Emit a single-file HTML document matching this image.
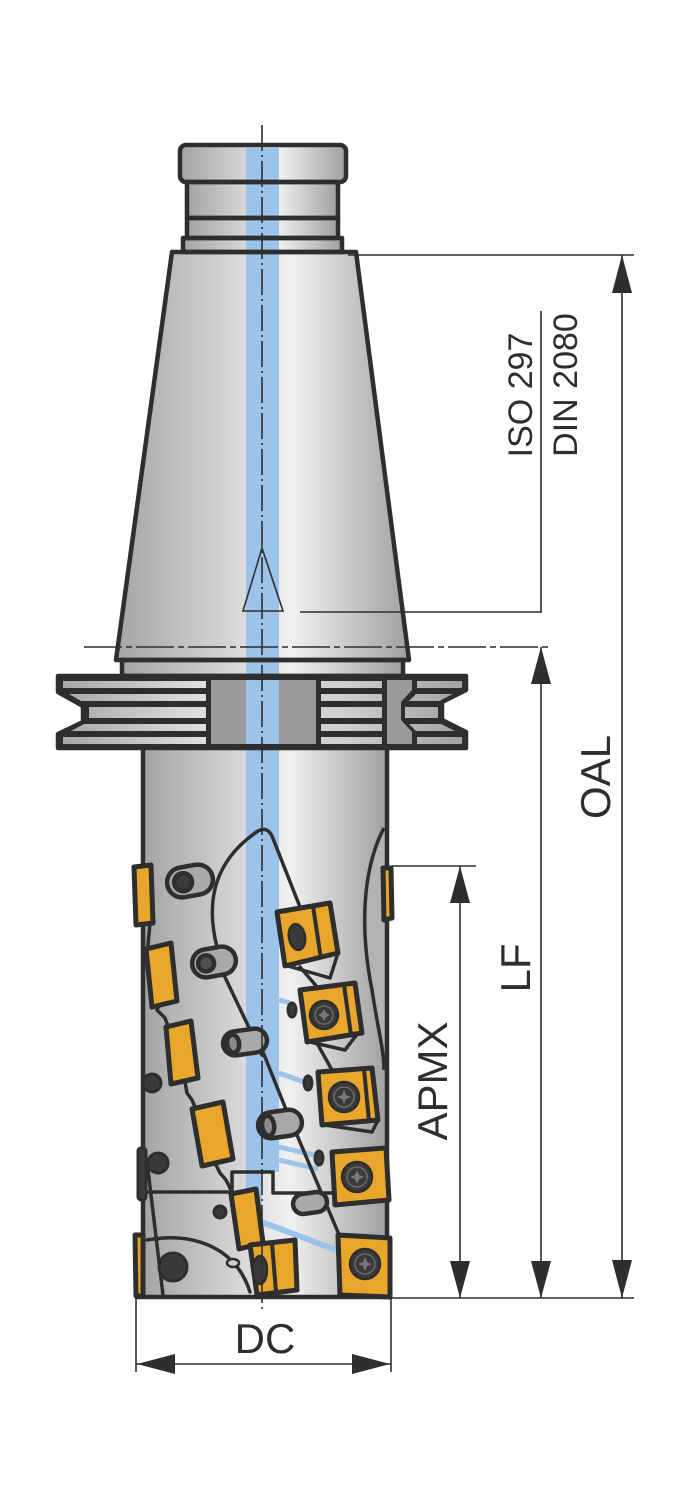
<!DOCTYPE html>
<html><head><meta charset="utf-8">
<style>html,body{margin:0;padding:0;background:#fff}svg{display:block}</style>
</head>
<body>
<svg width="692" height="1500" viewBox="0 0 692 1500" xmlns="http://www.w3.org/2000/svg">
<defs>
<linearGradient id="m" x1="0" x2="1" y1="0" y2="0">
<stop offset="0" stop-color="#a4a4a4"/><stop offset="0.5" stop-color="#e4e4e4"/><stop offset="0.6" stop-color="#f1f1f1"/><stop offset="1" stop-color="#a0a0a0"/>
</linearGradient>
<linearGradient id="fl" gradientUnits="userSpaceOnUse" x1="58" x2="466" y1="0" y2="0">
<stop offset="0" stop-color="#a6a6a6"/><stop offset="0.35" stop-color="#dedede"/><stop offset="0.7" stop-color="#cfcfcf"/><stop offset="1" stop-color="#a0a0a0"/>
</linearGradient>
</defs>

<!-- metal fills -->
<rect x="180" y="145" width="166" height="37" rx="6" fill="url(#m)"/>
<rect x="187" y="182" width="151" height="56" fill="url(#m)"/>
<rect x="183" y="238" width="159" height="14" fill="url(#m)"/>
<polygon points="172,252 356,252 409,660 116,660" fill="url(#m)"/>
<rect x="122" y="660" width="281" height="16" fill="url(#m)"/>
<rect x="143" y="748" width="244" height="549" fill="url(#m)"/>
<path d="M384 828 C 362 870, 360 930, 372 990 C 378 1030, 384 1050, 384 1070 L387 1070 L387 828 Z" fill="#b3b3b3"/>

<!-- flange -->
<path d="M58 676 H466 V690 L442 702 V720 L466 732 V748 H58 V734 L83 722 V706 L58 692 Z" fill="#2e2e2e"/>
<g fill="url(#fl)">
<rect x="63" y="681" width="143" height="7"/>
<polygon points="69,694 206,694 206,701 81,701"/>
<rect x="89" y="707" width="117" height="11"/>
<polygon points="84,724 206,724 206,731 71,731"/>
<rect x="63" y="737" width="143" height="7"/>
<rect x="321" y="681" width="61" height="7"/>
<rect x="321" y="694" width="61" height="7"/>
<rect x="321" y="707" width="61" height="11"/>
<rect x="321" y="724" width="61" height="7"/>
<rect x="321" y="737" width="61" height="7"/>
<rect x="417" y="681" width="45" height="7"/>
<polygon points="416,694 455,694 441,701 409,701"/>
<rect x="405" y="707" width="33" height="11"/>
<polygon points="409,724 441,724 455,731 416,731"/>
<rect x="417" y="737" width="45" height="7"/>
</g>
<rect x="211" y="680" width="105" height="64" fill="#9b9b9b"/>
<polygon points="387,680 412,680 412,690 401,702 401,720 412,732 412,744 387,744" fill="#9b9b9b"/>
<line x1="414" y1="680" x2="414" y2="690" stroke="#2e2e2e" stroke-width="3"/>
<line x1="414" y1="732" x2="414" y2="744" stroke="#2e2e2e" stroke-width="3"/>

<!-- blue coolant channel -->
<g fill="#9cc3e9">
<rect x="246" y="148" width="33" height="528"/>
<rect x="246" y="680" width="33" height="64"/>
<rect x="246" y="748" width="33" height="424"/>
<rect x="246" y="1172" width="16" height="72"/>
</g>
<g stroke="#9cc3e9" stroke-width="5" fill="none">
<line x1="279" y1="1000" x2="290" y2="1003"/>
<line x1="279" y1="1073" x2="307" y2="1083"/>
<line x1="279" y1="1147" x2="318" y2="1156"/>
<line x1="279" y1="1160" x2="318" y2="1169"/>
<line x1="262" y1="1222" x2="336" y2="1250" stroke-width="6"/>
</g>

<!-- outlines of holder -->
<g fill="none" stroke="#2e2e2e" stroke-width="4.5" stroke-linejoin="round">
<rect x="180" y="145" width="166" height="37" rx="6"/>
<rect x="187" y="182" width="151" height="36"/>
<rect x="187" y="218" width="151" height="20"/>
<rect x="183" y="238" width="159" height="14"/>
<polygon points="172,252 356,252 409,660 116,660"/>
<rect x="122" y="660" width="281" height="16"/>
<path d="M58 676 H466 V690 L442 702 V720 L466 732 V748 H58 V734 L83 722 V706 L58 692 Z"/>
<line x1="143" y1="748" x2="143" y2="1297"/>
<line x1="387" y1="748" x2="387" y2="1297"/>
<line x1="136" y1="1297" x2="392" y2="1297"/>
<path d="M384 828 C 362 870, 360 930, 372 990 C 378 1030, 384 1050, 384 1070" stroke-width="3.5"/>
</g>

<!-- cutter body lines -->
<g fill="none" stroke="#2e2e2e" stroke-width="3.5" stroke-linejoin="round" stroke-linecap="round">
<path d="M217 947 C 205 900, 215 860, 258 831 Q 267 826 272 836 L300 907"/>
<path d="M288 966 L330 978 L338 953"/>
<path d="M300 967 L318 988"/>
<path d="M310 1042 L345 1050 L358 1033"/>
<path d="M318 1045 L332 1070"/>
<path d="M325 1125 L372 1132 L378 1120"/>
<path d="M223 973 L262 1055"/>
<path d="M263 1052 L287 1112"/>
<path d="M297 1135 L340 1237"/>
<path d="M150 923 L148 945"/>
<path d="M160 1003 L157 1010 L165 1018 L168 1026"/>
<path d="M185 1082 L187 1093 L192 1100 L195 1107"/>
<path d="M215 1163 L220 1173 L226 1180 L232 1192"/>
<path d="M143 1192 H232 V1172 H273 V1193 H332"/>
<path d="M148 1170 L163 1295"/>
<path d="M147 1240 C 190 1232, 235 1245, 250 1292"/>
<path d="M262 1245 L258 1258"/>
</g>

<!-- slot holes -->
<g stroke="#2e2e2e" stroke-width="4.5">
<g transform="rotate(-10 190 881)"><rect x="167" y="866" width="46" height="30" rx="15" fill="#a9a9a9"/><circle cx="183" cy="881" r="9" fill="#3a3a3a"/></g>
<g transform="rotate(-10 214 962)"><rect x="192" y="948" width="44" height="28" rx="14" fill="#a9a9a9"/><circle cx="206" cy="962" r="8" fill="#505050"/></g>
<g transform="rotate(-8 245 1042)"><rect x="223" y="1030" width="44" height="24" rx="12" fill="#a9a9a9"/><ellipse cx="233" cy="1042" rx="6" ry="9" fill="#8a8a8a"/></g>
<g transform="rotate(-8 280 1124)"><rect x="258" y="1111" width="44" height="26" rx="13" fill="#a9a9a9"/><ellipse cx="268" cy="1124" rx="6" ry="10" fill="#8a8a8a"/></g>
<g transform="rotate(-8 310 1203)"><rect x="293" y="1193" width="34" height="20" rx="10" fill="#a9a9a9"/></g>
</g>

<!-- dark dots -->
<g fill="#3a3a3a" stroke="#2e2e2e" stroke-width="3">
<ellipse cx="292" cy="1010" rx="4" ry="7"/>
<ellipse cx="308" cy="1083" rx="4" ry="7"/>
<ellipse cx="319" cy="1158" rx="4" ry="7"/>
<circle cx="152" cy="1083" r="9"/>
<circle cx="158" cy="1163" r="10"/>
<circle cx="220" cy="1212" r="6"/>
<circle cx="173" cy="1267" r="14"/>
<rect x="138" y="1148" width="8" height="52" rx="3"/>
</g>
<ellipse cx="233" cy="1263" rx="6" ry="4" fill="#cfcfcf" stroke="#2e2e2e" stroke-width="2.5"/>

<!-- inserts -->
<g fill="#e8a62a" stroke="#2e2e2e" stroke-width="5" stroke-linejoin="round">
<polygon points="134,867 151,865 153,923 136,925"/>
<polygon points="146,949 171,943 177,1001 152,1007"/>
<polygon points="166,1027 191,1021 198,1078 171,1084"/>
<polygon points="192,1109 223,1102 233,1159 202,1166"/>
<polygon points="231,1194 256,1189 263,1243 239,1249"/>
<polygon points="383,868 391,868 392,918 384,920"/>
<polygon points="135,1235 143,1235 143,1296 136,1296"/>
<polygon points="277,912 330,903 338,953 285,966"/>
<polygon points="300,990 355,983 362,1033 307,1042"/>
<polygon points="318,1072 372,1068 378,1120 322,1125"/>
<polygon points="332,1152 386,1148 389,1200 335,1205"/>
<polygon points="338,1235 390,1238 390,1297 340,1295"/>
<polygon points="250,1245 295,1240 297,1290 257,1295"/>
</g>
<g fill="none" stroke="#2e2e2e" stroke-width="4">
<line x1="313" y1="906" x2="321" y2="959"/>
<line x1="344" y1="985" x2="351" y2="1035"/>
<line x1="364" y1="1069" x2="369" y2="1121"/>
<line x1="272" y1="1243" x2="276" y2="1292"/>
</g>
<!-- screws -->
<g fill="#3a3a3a" stroke="#2e2e2e" stroke-width="2.5">
<ellipse cx="297" cy="937" rx="8" ry="13" transform="rotate(-10 297 937)"/>
<circle cx="324" cy="1015" r="14"/>
<circle cx="344" cy="1097" r="15"/>
<circle cx="357" cy="1177" r="15"/>
<circle cx="365" cy="1264" r="15"/>
<ellipse cx="260" cy="1270" rx="7" ry="14"/>
</g>
<g fill="none" stroke="#6a6a6a" stroke-width="1.5">
<circle cx="324" cy="1015" r="9"/>
<circle cx="344" cy="1097" r="10"/>
<circle cx="357" cy="1177" r="10"/>
<circle cx="365" cy="1264" r="10"/>
</g>
<g fill="#7a7a7a">
<polygon points="324,1009 326,1013 330,1015 326,1017 324,1021 322,1017 318,1015 322,1013"/>
<polygon points="344,1090 346,1095 351,1097 346,1099 344,1104 342,1099 337,1097 342,1095"/>
<polygon points="357,1170 359,1175 364,1177 359,1179 357,1184 355,1179 350,1177 355,1175"/>
<polygon points="365,1257 367,1262 372,1264 367,1266 365,1271 363,1266 358,1264 363,1262"/>
</g>

<!-- cone marker -->
<polygon points="262,548 243,611 283,611" fill="none" stroke="#2e2e2e" stroke-width="1.6"/>

<!-- centerline -->
<line x1="262" y1="125" x2="262" y2="1312" stroke="#2e2e2e" stroke-width="1.6" stroke-dasharray="26 4 2 4"/>

<!-- dimension lines -->
<g stroke="#2e2e2e" stroke-width="1.6" fill="none">
<line x1="348" y1="255" x2="634" y2="255"/>
<line x1="84" y1="647" x2="550" y2="647" stroke-dasharray="38 4 6 4"/>
<line x1="392" y1="866" x2="476" y2="866"/>
<line x1="392" y1="1298" x2="634" y2="1298"/>
<line x1="622" y1="255" x2="622" y2="1298"/>
<line x1="541" y1="647" x2="541" y2="1298"/>
<line x1="460" y1="866" x2="460" y2="1298"/>
<line x1="541" y1="311" x2="541" y2="613"/>
<line x1="300" y1="612" x2="541" y2="612"/>
<line x1="136" y1="1298" x2="136" y2="1372"/>
<line x1="391" y1="1298" x2="391" y2="1372"/>
<line x1="136" y1="1364" x2="391" y2="1364"/>
</g>
<g fill="#2e2e2e">
<polygon points="622,255 612,293 632,293"/>
<polygon points="622,1298 612,1260 632,1260"/>
<polygon points="541,647 531,684 551,684"/>
<polygon points="541,1298 531,1261 551,1261"/>
<polygon points="460,866 450,903 470,903"/>
<polygon points="460,1298 450,1261 470,1261"/>
<polygon points="137,1364 175,1354 175,1374"/>
<polygon points="390,1364 352,1354 352,1374"/>
</g>

<!-- labels -->
<g fill="#2e2e2e" font-family="'Liberation Sans', Arial, sans-serif" text-anchor="middle">
<text transform="translate(610 777) rotate(-90)" font-size="42">OAL</text>
<text transform="translate(530 968) rotate(-90)" font-size="42">LF</text>
<text transform="translate(447 1081) rotate(-90)" font-size="42">APMX</text>
<text transform="translate(532 395) rotate(-90)" font-size="34">ISO 297</text>
<text transform="translate(577 385) rotate(-90)" font-size="34">DIN 2080</text>
<text x="265" y="1353" font-size="42">DC</text>
</g>
</svg>
</body></html>
